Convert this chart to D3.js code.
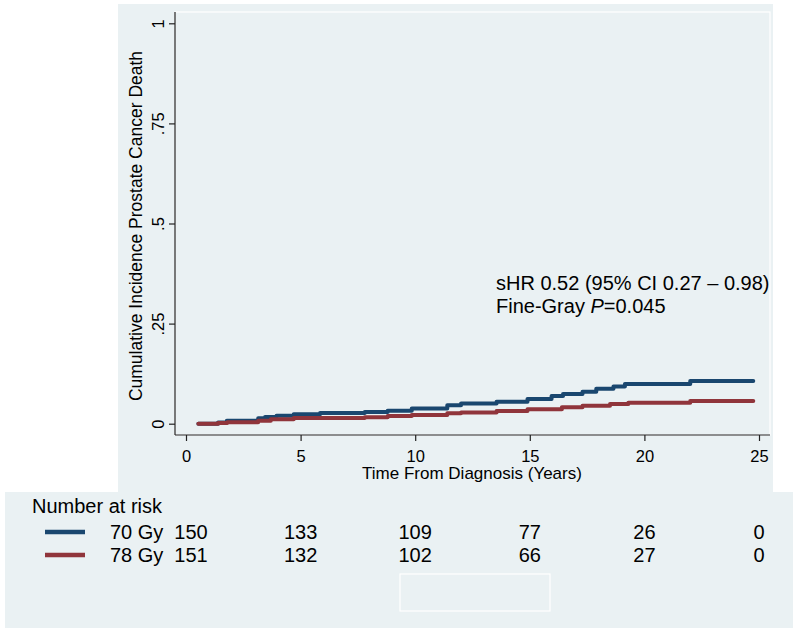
<!DOCTYPE html>
<html>
<head>
<meta charset="utf-8">
<script src="https://cdn.jsdelivr.net/npm/d3@7"></script>
<style>
  html, body { margin: 0; padding: 0; background: #ffffff; }
  svg { display: block; font-family: "Liberation Sans", Arial, sans-serif; }
</style>
</head>
<body>
<svg id="chart" width="800" height="634"></svg>
<script>
// ---- Data ----
const groups = ["70 Gy", "78 Gy"];
const groupColors = ["#1a476f", "#90353b"];

// Step-function cumulative incidence (time in years, value)
const times70  = [0.54, 1.4, 1.78, 3.15, 3.45, 3.95, 4.7, 5.85, 7.8, 8.8, 9.85, 11.4, 12.0, 13.55, 14.9, 15.95, 16.45, 17.3, 17.9, 18.65, 19.15, 22.0, 24.75];
const values70 = [0, 0.003, 0.0075, 0.0135, 0.017, 0.02, 0.0235, 0.0265, 0.029, 0.0325, 0.038, 0.046, 0.0505, 0.055, 0.062, 0.069, 0.074, 0.08, 0.087, 0.093, 0.099, 0.1067, 0.1067];

const times78  = [0.54, 1.4, 1.8, 3.15, 3.7, 4.7, 5.85, 7.8, 8.8, 9.85, 11.4, 12.0, 13.55, 14.9, 16.4, 17.3, 18.5, 19.3, 22.0, 24.75];
const values78 = [0, 0.002, 0.0035, 0.0075, 0.011, 0.014, 0.0145, 0.016, 0.019, 0.0215, 0.026, 0.028, 0.032, 0.036, 0.041, 0.045, 0.049, 0.0525, 0.0567, 0.0567];

const xTicks = [0, 5, 10, 15, 20, 25];
const yTicks = [0, 0.25, 0.5, 0.75, 1];
const yTickLabels = ["0", ".25", ".5", ".75", "1"];

const riskTimes = [0, 5, 10, 15, 20, 25];
const risk70 = [150, 133, 109, 77, 26, 0];
const risk78 = [151, 132, 102, 66, 27, 0];

const xTitle = "Time From Diagnosis (Years)";
const yTitle = "Cumulative Incidence Prostate Cancer Death";
const annot1 = "sHR 0.52 (95% CI 0.27 \u2013 0.98)";
const riskTitle = "Number at risk";

// ---- Drawing ----
const svg = d3.select("#chart");
const bg = "#eaf1f3";

// backgrounds
svg.append("rect").attr("x", 118).attr("y", 4).attr("width", 655).attr("height", 490).attr("fill", bg);
svg.append("rect").attr("x", 5).attr("y", 492).attr("width", 788).attr("height", 136).attr("fill", bg);

const x = d3.scaleLinear().domain([0, 25]).range([186, 759]);
const y = d3.scaleLinear().domain([0, 1]).range([423.7, 23.3]);

const plotL = 175, plotR = 770, plotT = 12, plotB = 435;

// plot region outline (white)
svg.append("rect").attr("x", plotL).attr("y", plotT).attr("width", plotR - plotL).attr("height", plotB - plotT)
  .attr("fill", "none").attr("stroke", "#ffffff").attr("stroke-width", 1.2);

// Y axis
const yAxis = d3.axisLeft(y).tickValues(yTicks).tickSize(6).tickPadding(6)
  .tickFormat((d, i) => yTickLabels[i]);
const gy = svg.append("g").attr("transform", `translate(${plotL},0)`).call(yAxis);
gy.select(".domain").attr("d", `M0,${plotT}V${plotB}`).attr("stroke", "#222").attr("stroke-width", 1.2);
gy.selectAll(".tick line").attr("stroke", "#222").attr("stroke-width", 1.2);
gy.selectAll(".tick text")
  .attr("font-size", 16.5).attr("fill", "#000")
  .attr("font-family", "'Liberation Sans', Arial, sans-serif")
  .attr("text-anchor", "middle")
  .attr("dy", 0)
  .attr("x", 0)
  .attr("transform", "translate(-11.5,0) rotate(-90)");

// X axis
const xAxis = d3.axisBottom(x).tickValues(xTicks).tickSize(6).tickPadding(8);
const gx = svg.append("g").attr("transform", `translate(0,${plotB})`).call(xAxis);
gx.select(".domain").attr("d", `M${plotL},0H${plotR}`).attr("stroke", "#222").attr("stroke-width", 1.2);
gx.selectAll(".tick line").attr("stroke", "#222").attr("stroke-width", 1.2);
gx.selectAll(".tick text").attr("font-size", 16.5).attr("fill", "#000")
  .attr("font-family", "'Liberation Sans', Arial, sans-serif")
  .attr("y", 27).attr("dy", 0);

// Axis titles
svg.append("text").attr("x", 472).attr("y", 479).attr("text-anchor", "middle")
  .attr("font-size", 17).attr("fill", "#000").text(xTitle);
svg.append("text").attr("transform", "translate(142,226) rotate(-90)").attr("text-anchor", "middle")
  .attr("font-size", 17.5).attr("fill", "#000").text(yTitle);

// Curves
const line = d3.line().x(d => x(d[0])).y(d => y(d[1])).curve(d3.curveStepAfter);
const series = [
  d3.zip(times70, values70),
  d3.zip(times78, values78)
];
series.forEach((s, i) => {
  svg.append("path").datum(s).attr("d", line)
    .attr("fill", "none").attr("stroke", groupColors[i]).attr("stroke-width", 4)
    .attr("stroke-linecap", "round").attr("stroke-linejoin", "round");
});

// Annotation
const ann = svg.append("text").attr("x", 496).attr("y", 290).attr("font-size", 20).attr("fill", "#000").text(annot1);
const ann2 = svg.append("text").attr("x", 496).attr("y", 313).attr("font-size", 20).attr("fill", "#000");
ann2.append("tspan").text("Fine-Gray ");
ann2.append("tspan").attr("font-style", "italic").text("P");
ann2.append("tspan").text("=0.045");

// Risk table
svg.append("text").attr("x", 32).attr("y", 513).attr("font-size", 20).attr("fill", "#000").text(riskTitle);
const rowY = [538.5, 561.5];
const riskData = [risk70, risk78];
groups.forEach((g, i) => {
  svg.append("line").attr("x1", 45).attr("x2", 85).attr("y1", rowY[i] - 6.5).attr("y2", rowY[i] - 6.5)
    .attr("stroke", groupColors[i]).attr("stroke-width", 4.5);
  svg.append("text").attr("x", 110).attr("y", rowY[i]).attr("font-size", 20).attr("fill", "#000").text(g);
  svg.selectAll(null).data(riskTimes).enter().append("text")
    .attr("x", (t, j) => x(t) + (j === 0 ? 5 : 0))
    .attr("y", rowY[i]).attr("text-anchor", "middle").attr("font-size", 20).attr("fill", "#000")
    .text((t, j) => riskData[i][j]);
});

// empty legend box
svg.append("rect").attr("x", 400).attr("y", 574).attr("width", 150).attr("height", 37)
  .attr("fill", "none").attr("stroke", "#ffffff").attr("stroke-width", 1.2);
</script>
</body>
</html>
